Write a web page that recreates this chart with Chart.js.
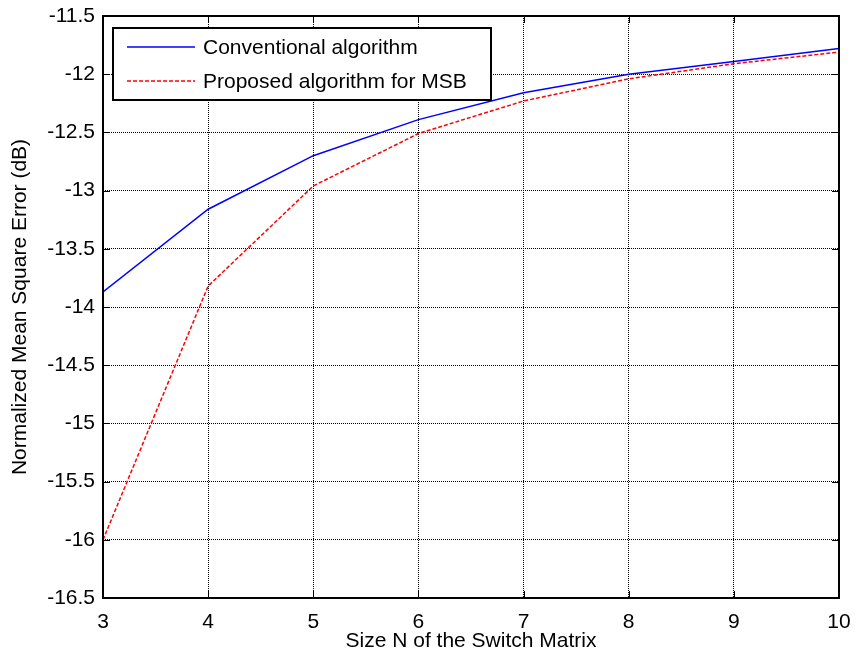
<!DOCTYPE html>
<html>
<head>
<meta charset="utf-8">
<script src="https://cdn.jsdelivr.net/npm/chart.js@4"></script>
<style>
  html, body { margin: 0; padding: 0; background: #fff; }
  #wrap { width: 857px; height: 662px; }
</style>
</head>
<body>
<div id="wrap"><canvas id="nmseChart" width="857" height="662"></canvas></div>
<script>
const sizes = [3, 4, 5, 6, 7, 8, 9, 10];
const conventional = [-13.87, -13.16, -12.70, -12.39, -12.16, -12.00, -11.89, -11.78];
const proposed = [-16.00, -13.82, -12.96, -12.51, -12.23, -12.04, -11.91, -11.81];
const seriesNames = ['Conventional algorithm', 'Proposed algorithm for MSB'];

const FONT = 'Arial, "Liberation Sans", sans-serif';

// box around the axes, inward ticks and the boxed legend
const matlabFrame = {
    id: 'matlabFrame',
    afterDatasetsDraw(chart) {
        const { ctx, chartArea: a, scales } = chart;
        ctx.save();
        ctx.strokeStyle = '#000';
        ctx.lineWidth = 1;
        // inward tick marks
        ctx.beginPath();
        scales.x.ticks.forEach(t => {
            const px = Math.round(scales.x.getPixelForValue(t.value)) + 0.5;
            ctx.moveTo(px, a.bottom); ctx.lineTo(px, a.bottom - 7);
            ctx.moveTo(px, a.top); ctx.lineTo(px, a.top + 7);
        });
        scales.y.ticks.forEach(t => {
            const py = Math.round(scales.y.getPixelForValue(t.value)) + 0.5;
            ctx.moveTo(a.left, py); ctx.lineTo(a.left + 7, py);
            ctx.moveTo(a.right, py); ctx.lineTo(a.right - 7, py);
        });
        ctx.stroke();
        ctx.lineWidth = 2;
        ctx.strokeRect(a.left, a.top, a.right - a.left, a.bottom - a.top);

        // legend
        const lx = 113, ly = 28, lw = 378, lh = 72;
        ctx.fillStyle = '#fff';
        ctx.fillRect(lx, ly, lw, lh);
        ctx.lineWidth = 2;
        ctx.strokeRect(lx, ly, lw, lh);
        ctx.font = '21px ' + FONT;
        ctx.textBaseline = 'middle';
        chart.data.datasets.forEach((ds, i) => {
            const y = ly + 19 + i * 34;
            ctx.strokeStyle = ds.borderColor;
            ctx.lineWidth = ds.borderWidth;
            ctx.setLineDash(ds.borderDash || []);
            ctx.beginPath();
            ctx.moveTo(127, y); ctx.lineTo(195, y);
            ctx.stroke();
            ctx.setLineDash([]);
            ctx.fillStyle = '#000';
            ctx.fillText(ds.label, 203, y + 1);
        });
        ctx.restore();
    }
};

new Chart(document.getElementById('nmseChart'), {
    type: 'line',
    data: {
        datasets: [
            {
                label: seriesNames[0],
                data: sizes.map((n, i) => ({ x: n, y: conventional[i] })),
                borderColor: '#0000ff',
                borderWidth: 1.5,
                pointRadius: 0,
                tension: 0
            },
            {
                label: seriesNames[1],
                data: sizes.map((n, i) => ({ x: n, y: proposed[i] })),
                borderColor: '#ff0000',
                borderWidth: 1.5,
                borderDash: [4, 2],
                pointRadius: 0,
                tension: 0
            }
        ]
    },
    options: {
        responsive: false,
        animation: false,
        layout: { padding: { top: 16, right: 18, left: 0, bottom: 0 } },
        plugins: {
            legend: { display: false },
            tooltip: { enabled: false }
        },
        scales: {
            x: {
                type: 'linear',
                min: 3, max: 10,
                ticks: { stepSize: 1, color: '#000', padding: 12, font: { family: FONT, size: 21 } },
                grid: { color: '#000', lineWidth: 1, drawTicks: false },
                border: { display: false, dash: [1, 1] },
                title: { display: true, text: 'Size N of the Switch Matrix', color: '#000', font: { family: FONT, size: 21 }, padding: { top: 2, bottom: 8 } },
                afterFit: s => { s.height = 64; s.paddingLeft = 0; s.paddingRight = 0; }
            },
            y: {
                type: 'linear',
                min: -16.5, max: -11.5,
                ticks: { stepSize: 0.5, color: '#000', padding: 8, font: { family: FONT, size: 21 }, callback: v => String(v) },
                grid: { color: '#000', lineWidth: 1, drawTicks: false },
                border: { display: false, dash: [1, 1] },
                title: { display: true, text: 'Normalized Mean Square Error (dB)', color: '#000', font: { family: FONT, size: 21 }, padding: { top: 8, bottom: 4 } },
                afterFit: s => { s.width = 103; s.paddingTop = 0; s.paddingBottom = 0; }
            }
        }
    },
    plugins: [matlabFrame]
});
</script>
</body>
</html>
